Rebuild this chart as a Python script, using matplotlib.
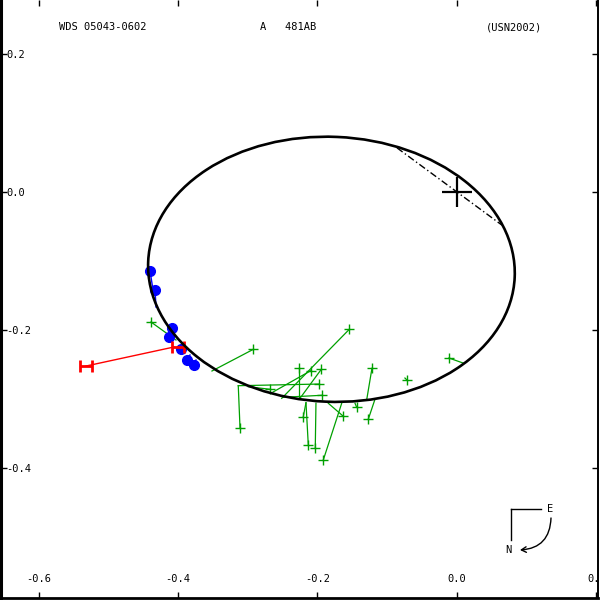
import matplotlib
matplotlib.use("Agg")
from matplotlib import pyplot as plt
from matplotlib.patches import Ellipse
from matplotlib.path import Path

# orbit of WDS 05043-0602 (relative positions, arcsec)
orbit_center = (-0.180, -0.112)
orbit_width = 0.526
orbit_height = 0.384
orbit_angle = -2.5

# line of nodes
node_x = [-0.086, 0.0645]
node_y = [0.064, -0.048]

# micrometer measures (green) and predicted positions
green_x = [-0.4387, -0.2920, -0.1544, -0.2261, -0.2097, -0.1946, -0.1974, -0.1935, -0.2681, -0.3111,
           -0.2204, -0.2132, -0.2032, -0.1917, -0.1639, -0.1438, -0.1219, -0.1272, -0.0717, -0.0115]
green_y = [-0.1884, -0.2280, -0.1990, -0.2555, -0.2590, -0.2570, -0.2783, -0.2946, -0.2859, -0.3416,
           -0.3257, -0.3667, -0.3714, -0.3884, -0.3242, -0.3120, -0.2555, -0.3294, -0.2725, -0.2406]
green_px = [-0.4029, -0.3513, -0.2513, -0.2261, -0.2638, -0.2251, -0.3136, -0.2490, -0.2992, -0.3136,
            -0.2165, -0.2165, -0.2022, -0.1653, -0.1845, -0.1462, -0.1295, -0.1176, -0.0746, 0.0086]
green_py = [-0.2145, -0.2594, -0.2990, -0.2990, -0.2899, -0.2990, -0.2807, -0.2975, -0.2822, -0.2807,
            -0.3054, -0.3054, -0.3062, -0.3062, -0.3062, -0.3062, -0.3014, -0.3004, -0.2696, -0.2478]

# speckle measures (blue)
blue_x = [-0.4401, -0.4330, -0.4086, -0.4129, -0.3957, -0.3871, -0.3771]
blue_y = [-0.1145, -0.1420, -0.1971, -0.2101, -0.2275, -0.2435, -0.2507]
blue_px = [-0.4358, -0.4315, -0.4115, -0.4057, -0.3943, -0.3828, -0.3742]
blue_py = [-0.1420, -0.1667, -0.1957, -0.2072, -0.2246, -0.2362, -0.2435]

# Hipparcos measures (red)
red_x = [-0.5319, -0.4000]
red_y = [-0.2522, -0.2246]
red_px = [-0.4057, -0.4000]
red_py = [-0.2246, -0.2246]

xticks = [-0.6, -0.4, -0.2, 0.0, 0.2]
xlabels = ['-0.6', '-0.4', '-0.2', '0.0', '0.2']
yticks = [0.2, 0.0, -0.2, -0.4]
ylabels = ['0.2', '0.0', '-0.2', '-0.4']

mono = 'DejaVu Sans Mono'
green = '#00a000'

fig = plt.figure(figsize=(6, 6), dpi=100)
ax = fig.add_axes([1/600, 2/600, 597/600, 598/600])
ax.set_xlim(-0.6538, 0.2022)
ax.set_ylim(-0.5884, 0.2783)

for i in range(len(green_x)):
    ax.plot([green_x[i], green_px[i]], [green_y[i], green_py[i]], color=green, lw=0.9, zorder=2)
ax.plot(green_x, green_y, '+', color=green, ms=7, mew=1, zorder=3)

for i in range(len(blue_x)):
    ax.plot([blue_x[i], blue_px[i]], [blue_y[i], blue_py[i]], color='blue', lw=1, zorder=2)
ax.plot(blue_x, blue_y, 'o', color='blue', ms=7, zorder=3)

hmark = Path([(-1, -1), (-1, 1), (1, -1), (1, 1), (-1, 0), (1, 0)],
             [Path.MOVETO, Path.LINETO, Path.MOVETO, Path.LINETO, Path.MOVETO, Path.LINETO])
for i in range(len(red_x)):
    ax.plot([red_x[i], red_px[i]], [red_y[i], red_py[i]], color='red', lw=1, zorder=4)
ax.plot(red_x, red_y, linestyle='none', marker=hmark, color='red', ms=8, mew=2, zorder=4)

orbit = Ellipse(orbit_center, orbit_width, orbit_height, angle=orbit_angle,
                fill=False, color='black', lw=1.9, zorder=5)
ax.add_patch(orbit)
ax.plot(node_x, node_y, color='black', lw=1, linestyle=(0, (5, 2, 1, 2)), zorder=5)
ax.plot([0], [0], '+', color='black', ms=22, mew=1.6, zorder=6)

ax.set_xticks(xticks)
ax.set_xticklabels(xlabels, fontfamily=mono, fontsize=7.5)
ax.set_yticks(yticks)
ax.set_yticklabels(ylabels, fontfamily=mono, fontsize=7.5)
ax.tick_params(direction='in', top=True, right=True, length=4, width=1)
ax.tick_params(axis='x', pad=-17)
ax.tick_params(axis='y', pad=-4)
for lbl in ax.get_yticklabels():
    lbl.set_horizontalalignment('left')
ax.spines['top'].set_visible(False)
ax.spines['left'].set_linewidth(2.2)
ax.spines['bottom'].set_linewidth(2.0)
ax.spines['right'].set_linewidth(1.4)

fig.text(59/600, 1 - 27/600, 'WDS 05043-0602', fontfamily=mono, fontsize=7.5, va='center', ha='left')
fig.text(260/600, 1 - 27/600, 'A   481AB', fontfamily=mono, fontsize=7.5, va='center', ha='left')
fig.text(486/600, 1 - 27/600, '(USN2002)', fontfamily=mono, fontsize=7.5, va='center', ha='left')

# orientation sign
fig.add_artist(plt.Line2D([511/600, 541/600, ], [1 - 509/600, 1 - 509/600], color='black', lw=1))
fig.add_artist(plt.Line2D([511/600, 511/600], [1 - 509/600, 1 - 540/600], color='black', lw=1))
fig.text(550/600, 1 - 509/600, 'E', fontfamily=mono, fontsize=7.5, va='center', ha='center')
fig.text(508/600, 1 - 550/600, 'N', fontfamily=mono, fontsize=7.5, va='center', ha='center')
ax.annotate('', xy=(520, 50), xycoords='figure pixels', xytext=(551, 82), textcoords='figure pixels',
            arrowprops=dict(arrowstyle='->,head_length=0.35,head_width=0.2', color='black', lw=1,
                            connectionstyle='arc3,rad=-0.45', shrinkA=0, shrinkB=0))

plt.savefig('out.png', dpi=100)
